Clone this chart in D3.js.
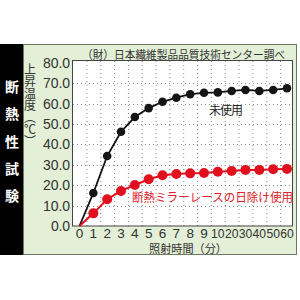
<!DOCTYPE html>
<html>
<head>
<meta charset="utf-8">
<script src="https://cdn.jsdelivr.net/npm/d3@7"></script>
<style>
body { margin: 0; background: #fff; }
text { font-family: "Noto Sans CJK JP", "DejaVu Sans", sans-serif; }
text.num { font-family: "Liberation Sans", Arial, sans-serif; }
</style>
</head>
<body>
<div id="plot"></div>
<script>
// data
var minutes = ['0','1','2','3','4','5','6','7','8','9','10','20','30','40','50','60'];
var noCurtain = [0, 16.2, 34.3, 46.2, 53.4, 57.8, 60.9, 62.9, 64.6, 65.3, 65.5, 66.2, 66.7, 66.2, 66.7, 67.5];
var mirrorLace = [0, 6.2, 13.1, 17.2, 20.1, 22.9, 24.9, 25.5, 25.8, 26.0, 26.6, 27.0, 27.5, 27.5, 27.8, 28.0];
var yTicks = [0, 10, 20, 30, 40, 50, 60, 70, 80];
var sideTitle = ['断', '熱', '性', '試', '験'];

var svg = d3.select('#plot').append('svg')
	.attr('width', 300)
	.attr('height', 300);

// black strip + green panel
svg.append('rect').attr('x', 0).attr('y', 44).attr('width', 23).attr('height', 211).attr('fill', '#000');
svg.append('rect').attr('x', 23.5).attr('y', 44.5).attr('width', 273).attr('height', 210)
	.attr('fill', '#e3efd6').attr('stroke', '#6b7a60').attr('stroke-width', 1);

svg.selectAll('.side').data(sideTitle).enter().append('text')
	.attr('class', 'side')
	.attr('x', 12)
	.attr('y', function (d, i) { return 92 + i * 27.3; })
	.attr('text-anchor', 'middle')
	.attr('fill', '#fff')
	.attr('font-size', 14)
	.attr('font-weight', 'bold')
	.text(function (d) { return d; });

var x = d3.scaleBand().domain(minutes).range([72.6, 293.9]);
var y = d3.scaleLinear().domain([0, 80]).range([226, 62.8]);
var cx = function (d, i) { return x(minutes[i]) + x.bandwidth() / 2; };

// plot area
svg.append('rect').attr('x', 72.5).attr('y', 60.5).attr('width', 220).attr('height', 165.5)
	.attr('fill', '#fff');

// dotted grid
svg.selectAll('.vgrid').data(minutes.slice(1)).enter().append('line')
	.attr('class', 'vgrid')
	.attr('x1', function (d) { return x(d) + 0.5; })
	.attr('x2', function (d) { return x(d) + 0.5; })
	.attr('y1', 61).attr('y2', 226)
	.attr('stroke', '#8a8a8a').attr('stroke-width', 1).attr('stroke-dasharray', '1,3');
svg.selectAll('.hgrid').data(yTicks.slice(1, 8)).enter().append('line')
	.attr('class', 'hgrid')
	.attr('x1', 73).attr('x2', 292)
	.attr('y1', function (d) { return Math.round(y(d)) + 0.5; })
	.attr('y2', function (d) { return Math.round(y(d)) + 0.5; })
	.attr('stroke', '#8a8a8a').attr('stroke-width', 1).attr('stroke-dasharray', '1,3');

svg.append('rect').attr('x', 72.5).attr('y', 60.5).attr('width', 220).attr('height', 165.5)
	.attr('fill', 'none').attr('stroke', '#444').attr('stroke-width', 1);

// axis labels
svg.selectAll('.ytick').data(yTicks).enter().append('text')
	.attr('class', 'ytick num')
	.attr('x', 70)
	.attr('y', function (d) { return y(d) + 5; })
	.attr('text-anchor', 'end')
	.attr('font-size', 14)
	.attr('fill', '#333')
	.attr('textLength', function (d) { return d < 10 ? 19 : 27; })
	.attr('lengthAdjust', 'spacing')
	.text(function (d) { return d.toFixed(1); });

svg.selectAll('.xtick').data(minutes).enter().append('text')
	.attr('class', 'xtick num')
	.attr('x', function (d) { return x(d) + x.bandwidth() / 2; })
	.attr('y', 238)
	.attr('text-anchor', 'middle')
	.attr('font-size', 13.5)
	.attr('fill', '#333')
	.each(function (d) {
		if (d.length > 1) d3.select(this).attr('textLength', 13.5).attr('lengthAdjust', 'spacingAndGlyphs');
	})
	.text(function (d) { return d; });

svg.append('text')
	.attr('x', 30).attr('y', 63)
	.style('writing-mode', 'vertical-rl')
	.attr('font-size', 12)
	.attr('fill', '#333')
	.text('上昇温度（℃）');

svg.append('text')
	.attr('x', 82).attr('y', 58.5)
	.attr('font-size', 11.5)
	.attr('fill', '#333')
	.attr('textLength', 203)
	.attr('lengthAdjust', 'spacingAndGlyphs')
	.text('（財）日本繊維製品品質技術センター調べ');

svg.append('text')
	.attr('x', 149).attr('y', 253)
	.attr('font-size', 11.5)
	.attr('fill', '#333')
	.attr('textLength', 78)
	.attr('lengthAdjust', 'spacingAndGlyphs')
	.text('照射時間（分）');

// lines + markers
var line = d3.line().x(cx).y(function (d) { return y(d); });

svg.append('path').datum(noCurtain)
	.attr('d', line).attr('fill', 'none').attr('stroke', '#111').attr('stroke-width', 1.8);
svg.append('path').datum(mirrorLace)
	.attr('d', line).attr('fill', 'none').attr('stroke', '#e0101e').attr('stroke-width', 2);

svg.selectAll('.black').data(noCurtain.slice(1)).enter().append('circle')
	.attr('class', 'black')
	.attr('cx', function (d, i) { return x(minutes[i + 1]) + x.bandwidth() / 2; })
	.attr('cy', function (d) { return y(d); })
	.attr('r', 4.3)
	.attr('fill', '#151515');

svg.selectAll('.red').data(mirrorLace.slice(1)).enter().append('circle')
	.attr('class', 'red')
	.attr('cx', function (d, i) { return x(minutes[i + 1]) + x.bandwidth() / 2; })
	.attr('cy', function (d) { return y(d); })
	.attr('r', 5)
	.attr('fill', '#e0101e');

svg.append('text')
	.attr('x', 209).attr('y', 115)
	.attr('font-size', 12)
	.attr('fill', '#222')
	.attr('textLength', 34)
	.text('未使用');

svg.append('text')
	.attr('x', 132).attr('y', 202)
	.attr('font-size', 12)
	.attr('fill', '#e0202a')
	.attr('textLength', 161)
	.attr('lengthAdjust', 'spacingAndGlyphs')
	.text('断熱ミラーレースの日除け使用');
</script>
</body>
</html>
